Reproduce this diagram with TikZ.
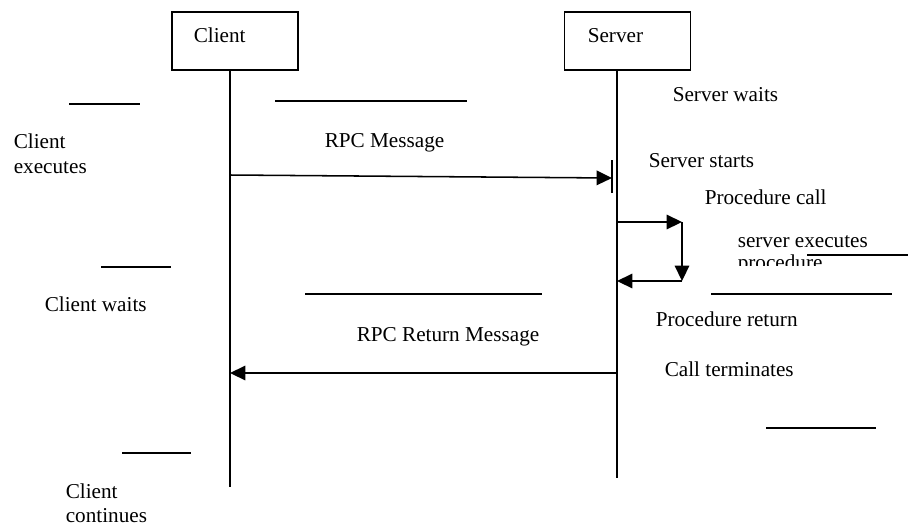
\documentclass[tikz,border=0pt]{standalone}
\usepackage{fontspec}
\setmainfont{Liberation Serif}
\usetikzlibrary{arrows.meta}
\begin{document}
\begin{tikzpicture}[x=0.585pt,y=-0.585pt,
  line width=0.9pt,
  lifebox/.style={draw,line width=0.9pt,minimum width=73.7pt,minimum height=33.9pt,inner sep=0pt},
  lbl/.style={anchor=base west,inner sep=0pt,font=\fontsize{12.4}{14}\selectfont},
  msg/.style={-{Triangle[length=9pt,width=8.5pt]}},
  gap/.style={line width=0.9pt}]
\useasboundingbox (0,0) rectangle (908,527);

% participant boxes
\node[lifebox] (client) at (235,41) {};
\node[lbl] (clientname) at (193,42) {Client};
\node[lifebox] (server) at (627.5,41) {};
\node[lbl] (servername) at (587,42) {Server};

% lifelines
\coordinate (cend) at (230,487);
\coordinate (send) at (617,478);
\draw (client.south -| cend) -- (cend);
\draw (server.south -| send) -- (send);

% short separator strokes
\draw[gap] (69,104) -- (140,104);
\draw[gap] (275,101) -- (467,101);
\draw[gap] (101,267) -- (171,267);
\draw[gap] (305,294) -- (542,294);
\draw[gap] (711,294) -- (892,294);
\draw[gap] (122,453) -- (191,453);
\draw[gap] (766,428) -- (876,428);

% RPC message
\coordinate (m1s) at (230,175);
\coordinate (m1e) at (612,178);
\draw[msg] (m1s) -- (m1e);
\coordinate (bartop) at (612,160);
\coordinate (barbot) at (612,193);
\draw (bartop) -- (barbot);

% procedure call loop on the server
\coordinate (p1) at (617,222);
\coordinate (p2) at (682,222);
\coordinate (p3) at (682,281);
\coordinate (p4) at (617,281);
\draw[msg] (p1) -- (p2);
\draw[msg] (p2) -- (p3);
\draw[msg] (p3) -- (p4);

% RPC return message
\coordinate (r1s) at (617,373);
\coordinate (r1e) at (230,373);
\draw[msg] (r1s) -- (r1e);

% labels
\node[lbl] (t1) at (672,101) {Server waits};
\node[lbl] (t2a) at (13,148) {Client};
\node[lbl] (t2b) at (13,173) {executes};
\node[lbl] (t3) at (324,147) {RPC Message};
\node[lbl] (t4) at (648,167) {Server starts};
\node[lbl] (t5) at (704,204) {Procedure call};
\node[lbl] (t6a) at (737,247) {server executes};
\node[lbl] (t6b) at (737,269) {procedure};
\fill[white] (734,266) rectangle (840,284);
\draw[gap] (807,255) -- (908,255);
\node[lbl] (t7) at (44,311) {Client waits};
\node[lbl] (t8) at (356,341) {RPC Return Message};
\node[lbl] (t9) at (655,326) {Procedure return};
\node[lbl] (t10) at (664,376) {Call terminates};
\node[lbl] (t11a) at (65,498) {Client};
\node[lbl] (t11b) at (65,522) {continues};
\end{tikzpicture}
\end{document}
